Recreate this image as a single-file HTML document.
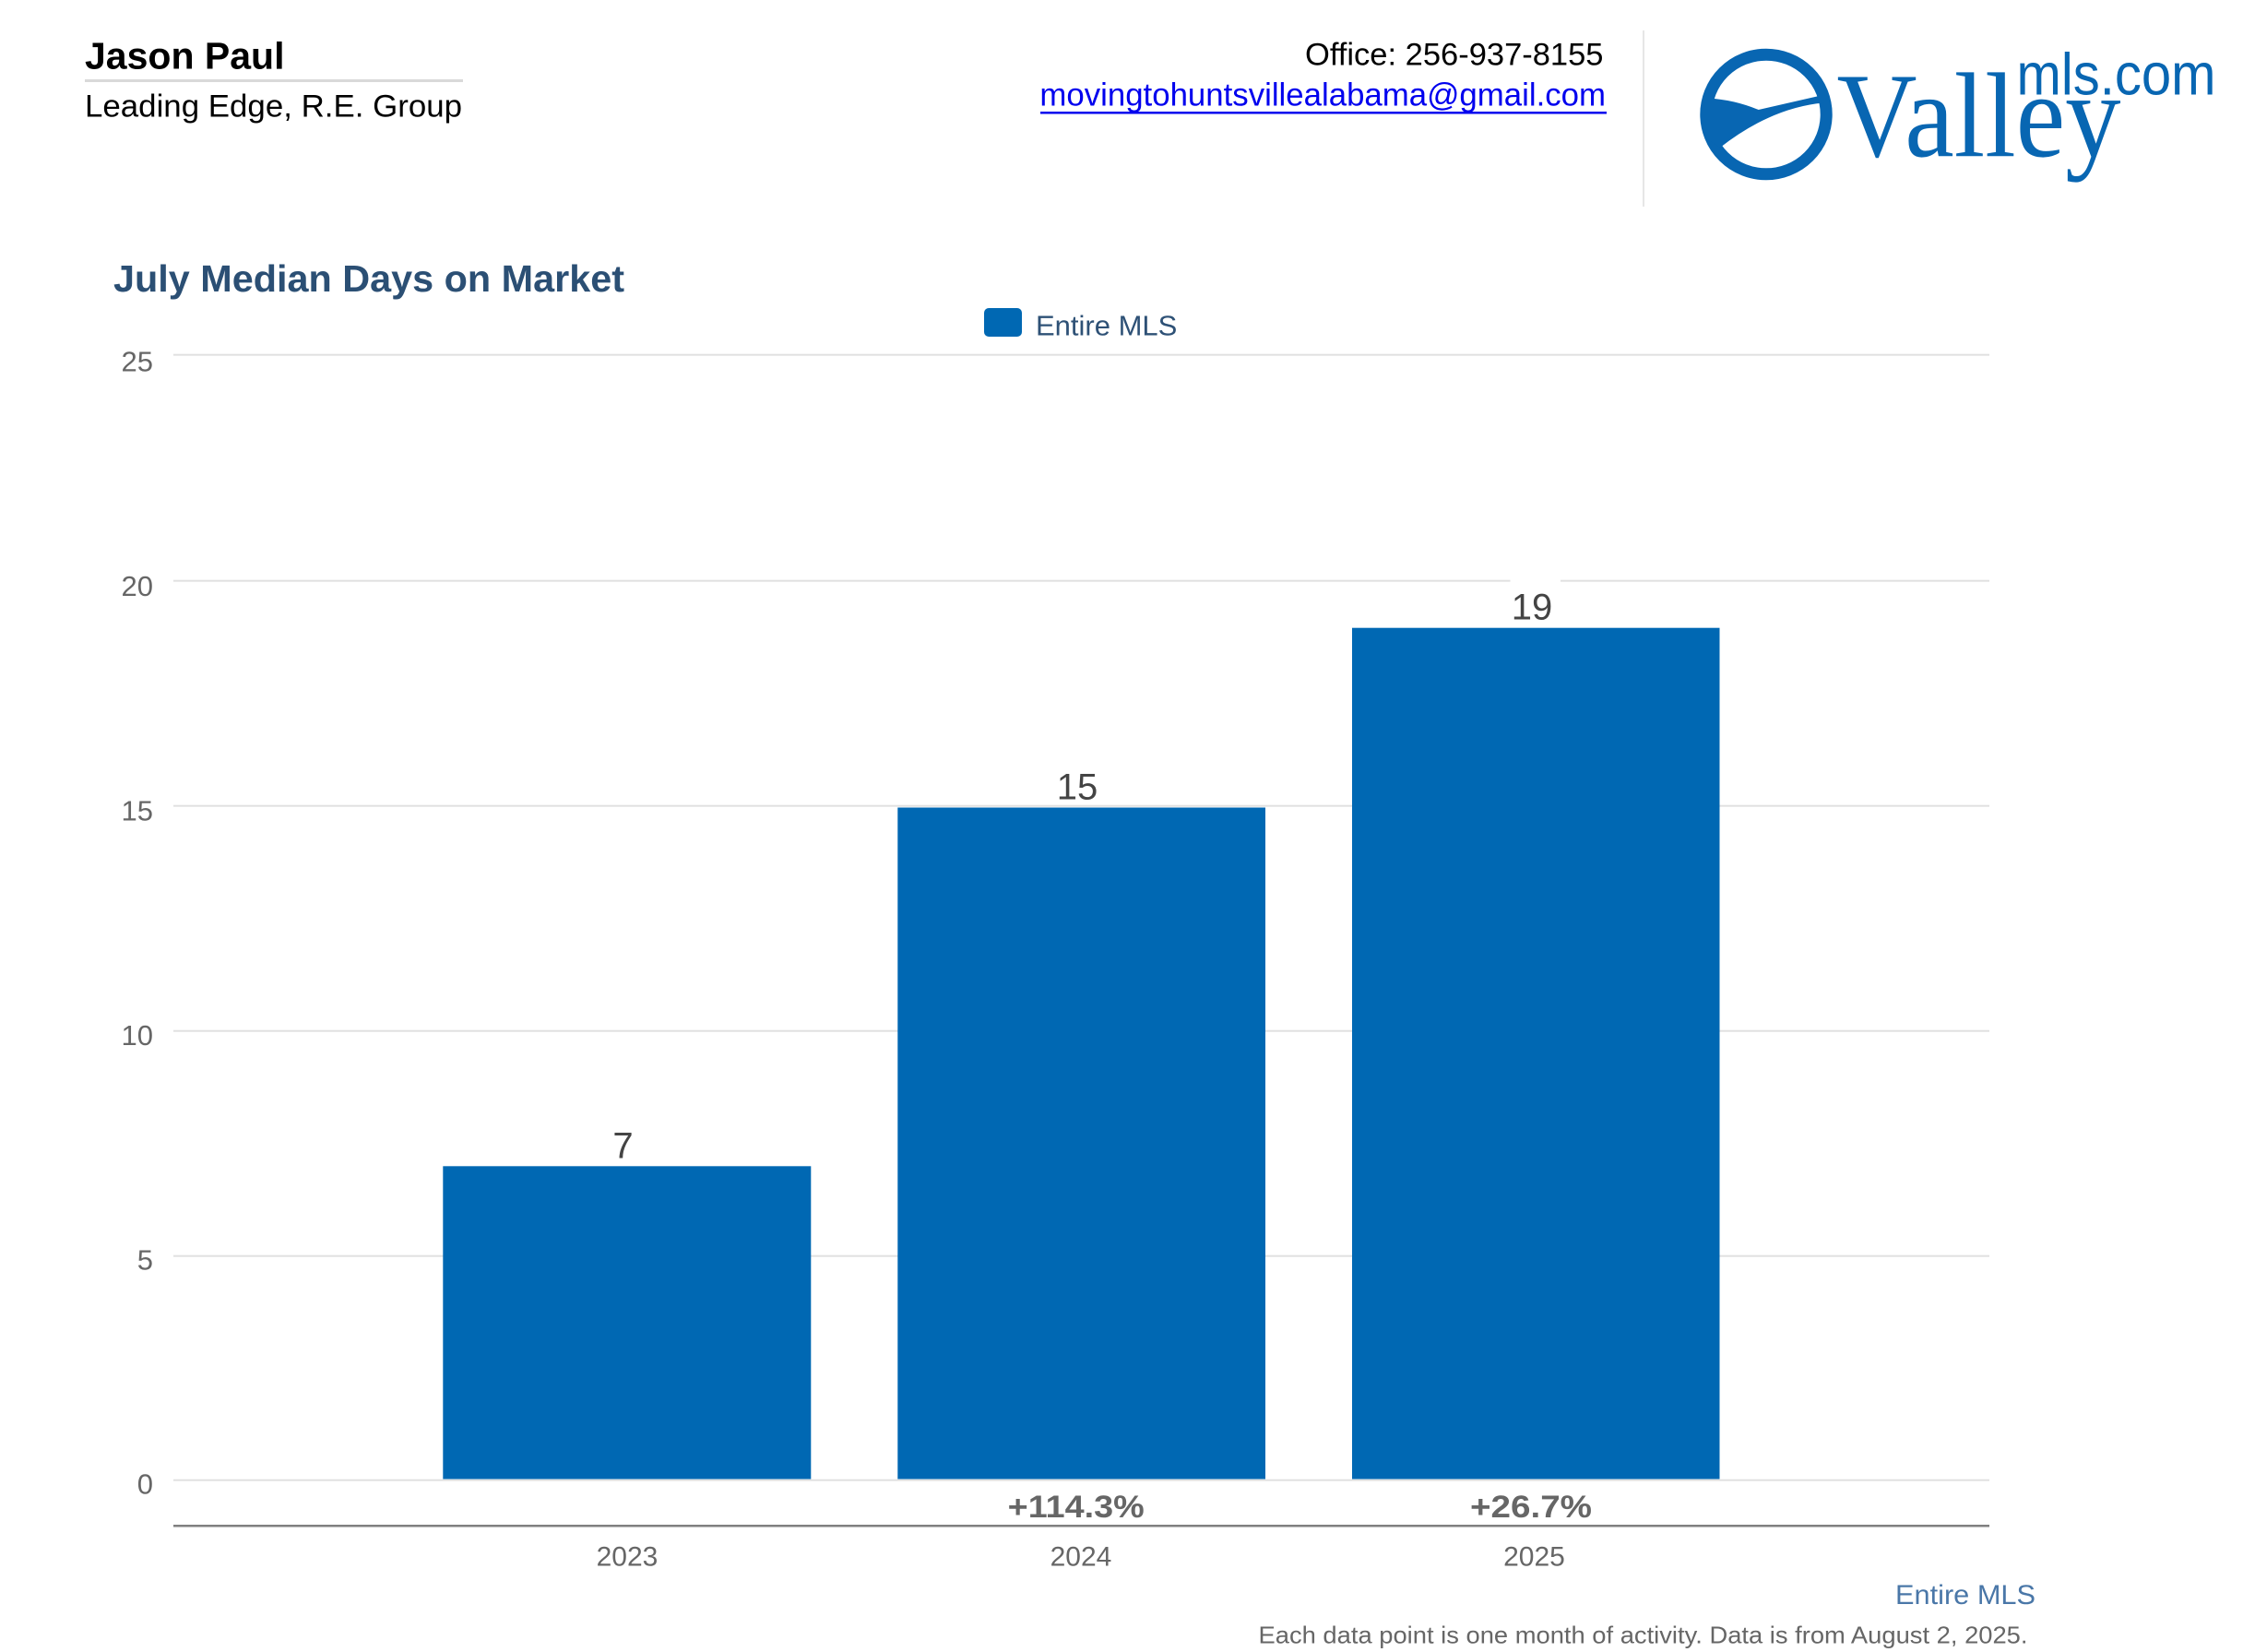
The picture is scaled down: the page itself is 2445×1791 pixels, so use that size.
<!DOCTYPE html>
<html>
<head>
<meta charset="utf-8">
<style>
  html,body{margin:0;padding:0;background:#fff;}
  body{width:2445px;height:1791px;overflow:hidden;}
  svg{display:block;}
  text{font-family:"Liberation Sans",Arial,sans-serif;}
  text.serif{font-family:"Liberation Serif","Times New Roman",serif;}
</style>
</head>
<body>
<svg width="2445" height="1791" viewBox="0 0 2445 1791" xmlns="http://www.w3.org/2000/svg">
  <rect x="0" y="0" width="2445" height="1791" fill="#ffffff"/>

  <!-- Header left -->
  <text x="92" y="74.3" font-size="41" font-weight="bold" fill="#000">Jason Paul</text>
  <rect x="92" y="86" width="410" height="3" fill="#d9d9d9"/>
  <text x="92" y="126.7" font-size="34" fill="#000" textLength="409" lengthAdjust="spacingAndGlyphs">Leading Edge, R.E. Group</text>

  <!-- Header right contact -->
  <text x="1738.5" y="70.7" font-size="34.5" fill="#000" text-anchor="end">Office: 256-937-8155</text>
  <text x="1741" y="114.3" font-size="34.8" fill="#0000ee" text-anchor="end">movingtohuntsvillealabama@gmail.com</text>
  <rect x="1128" y="121" width="614" height="2.5" fill="#0000ee"/>

  <!-- Divider -->
  <rect x="1781" y="33" width="2" height="191" fill="#e6e6e6"/>

  <!-- Logo -->
  <g fill="#0866b2">
    <ellipse cx="1915" cy="124" rx="65.2" ry="64.8" fill="none" stroke="#0866b2" stroke-width="13"/>
    <path d="M1852 106.5 Q1880 108 1906.7 119 L1976.7 103 L1976.7 111.5 Q1920 117 1865 160 L1850 150 Z"/>
    <text class="serif" x="1991.5" y="169.3" style="font-family:'Liberation Serif','Times New Roman',serif" font-size="131" textLength="308" lengthAdjust="spacingAndGlyphs">Valley</text>
    <text x="2186.5" y="102.3" font-size="64" textLength="216" lengthAdjust="spacingAndGlyphs">mls.com</text>
  </g>

  <!-- Title -->
  <text x="123" y="316" font-size="41" font-weight="bold" fill="#2b4f74" textLength="554" lengthAdjust="spacingAndGlyphs">July Median Days on Market</text>

  <!-- Legend -->
  <rect x="1067" y="334" width="41" height="31" rx="5" ry="5" fill="#0068b3"/>
  <text x="1123" y="363.3" font-size="31" fill="#2e5176">Entire MLS</text>

  <!-- Gridlines -->
  <g fill="#e0e0e0">
    <rect x="188" y="383.7" width="1969" height="2"/>
    <rect x="188" y="628.7" width="1969" height="2"/>
    <rect x="188" y="872.7" width="1969" height="2"/>
    <rect x="188" y="1116.7" width="1969" height="2"/>
    <rect x="188" y="1360.7" width="1969" height="2"/>
    <rect x="188" y="1603.7" width="1969" height="2"/>
  </g>

  <!-- Y axis labels -->
  <g font-size="31" fill="#666" text-anchor="end">
    <text x="166" y="402.7">25</text>
    <text x="166" y="646.1">20</text>
    <text x="166" y="889.5">15</text>
    <text x="166" y="1132.9">10</text>
    <text x="166" y="1376.3">5</text>
    <text x="166" y="1619.7">0</text>
  </g>

  <!-- Bars -->
  <g fill="#0068b3">
    <rect x="480.3" y="1264.3" width="399" height="339.2"/>
    <rect x="973.3" y="875.5" width="398.7" height="728"/>
    <rect x="1466" y="680.7" width="398.5" height="922.8"/>
  </g>

  <!-- label background gap on gridline -->
  <rect x="1637.5" y="626" width="54.5" height="8" fill="#fff"/>

  <!-- Data labels -->
  <g font-size="40" fill="#444" text-anchor="middle">
    <text x="675.5" y="1255.3">7</text>
    <text x="1168" y="866.5">15</text>
    <text x="1661" y="671.7">19</text>
  </g>

  <!-- Percent change labels -->
  <g font-size="34" font-weight="bold" fill="#666" text-anchor="middle">
    <text x="1166.7" y="1645" textLength="148" lengthAdjust="spacingAndGlyphs">+114.3%</text>
    <text x="1660" y="1645" textLength="132" lengthAdjust="spacingAndGlyphs">+26.7%</text>
  </g>

  <!-- X axis line -->
  <rect x="188" y="1653" width="1969" height="2.5" fill="#808080"/>

  <!-- X labels -->
  <g font-size="30" fill="#666" text-anchor="middle">
    <text x="680" y="1697.7">2023</text>
    <text x="1172" y="1697.7">2024</text>
    <text x="1663.5" y="1697.7">2025</text>
  </g>

  <!-- Footer -->
  <text x="2207" y="1739" font-size="30" fill="#4a77a8" text-anchor="end" textLength="152" lengthAdjust="spacingAndGlyphs">Entire MLS</text>
  <text x="2198.5" y="1781.7" font-size="26" fill="#666" text-anchor="end" textLength="834" lengthAdjust="spacingAndGlyphs">Each data point is one month of activity. Data is from August 2, 2025.</text>
</svg>
</body>
</html>
